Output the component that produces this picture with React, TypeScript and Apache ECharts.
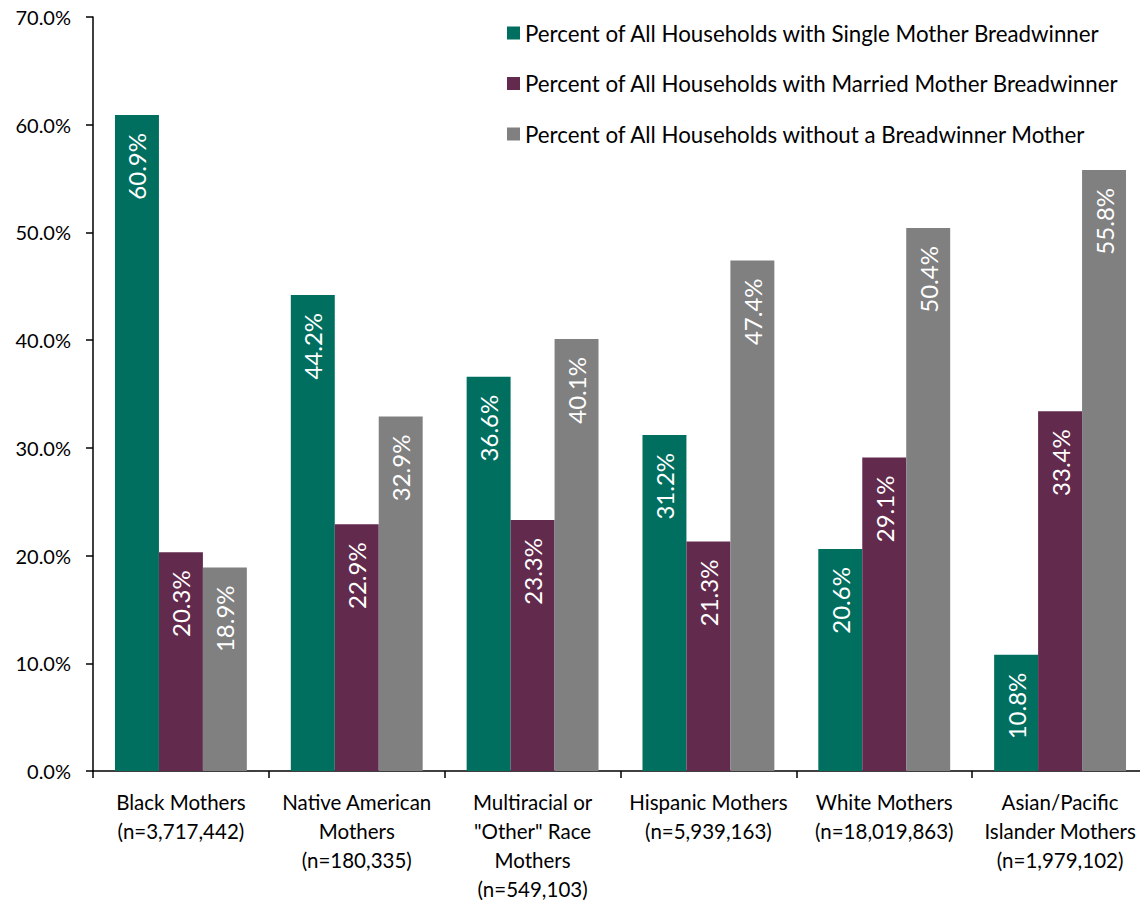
import React, { useEffect, useRef } from "react";
import * as echarts from "echarts";

const categories = [
  "Black Mothers\n(n=3,717,442)",
  "Native American\nMothers\n(n=180,335)",
  "Multiracial or\n\"Other\" Race\nMothers\n(n=549,103)",
  "Hispanic Mothers\n(n=5,939,163)",
  "White Mothers\n(n=18,019,863)",
  "Asian/Pacific\nIslander Mothers\n(n=1,979,102)",
];

const singleMother = [60.9, 44.2, 36.6, 31.2, 20.6, 10.8];
const marriedMother = [20.3, 22.9, 23.3, 21.3, 29.1, 33.4];
const withoutBreadwinner = [18.9, 32.9, 40.1, 47.4, 50.4, 55.8];

const seriesNames = [
  "Percent of All Households with Single Mother Breadwinner",
  "Percent of All Households with Married Mother Breadwinner",
  "Percent of All Households without a Breadwinner Mother",
];
const colors = ["#006F5F", "#622A4C", "#808080"];

const FONT = "Lato";

export default function App() {
  const ref = useRef<HTMLDivElement>(null);
  useEffect(() => {
    if (!ref.current) return;
    const chart = echarts.init(ref.current, undefined, { renderer: "svg" });
    const label = {
      show: true,
      position: "insideTop",
      rotate: 90,
      align: "right",
      verticalAlign: "middle",
      distance: 18,
      color: "#fff",
      fontSize: 24,
      fontFamily: FONT,
      formatter: (p: any) => Number(p.value).toFixed(1) + "%",
    };
    const datas = [singleMother, marriedMother, withoutBreadwinner];
    chart.setOption({
      animation: false,
      textStyle: { fontFamily: FONT },
      grid: {
        left: 93,
        top: 17,
        width: 1055,
        height: 754,
        containLabel: false,
        outerBoundsMode: "none",
      },
      legend: {
        data: seriesNames,
        orient: "vertical",
        left: 507,
        top: 22,
        padding: 0,
        itemWidth: 13,
        itemHeight: 13,
        itemGap: 28.5,
        icon: "rect",
        textStyle: { fontSize: 22.3, lineHeight: 22, color: "#000", fontFamily: FONT },
      },
      xAxis: {
        type: "category",
        data: categories,
        axisLine: { show: true, lineStyle: { color: "#000", width: 1.5 } },
        axisTick: { show: true, length: 7, alignWithLabel: false, lineStyle: { color: "#000", width: 1.5 } },
        axisLabel: {
          interval: 0,
          fontSize: 20.5,
          lineHeight: 29,
          margin: 16,
          color: "#000",
          fontFamily: FONT,
        },
      },
      yAxis: {
        type: "value",
        min: 0,
        max: 70,
        interval: 10,
        splitLine: { show: false },
        axisLine: { show: true, lineStyle: { color: "#000", width: 1.5 } },
        axisTick: { show: true, length: 7, lineStyle: { color: "#000", width: 1.5 } },
        axisLabel: {
          fontSize: 20,
          margin: 22,
          color: "#000",
          fontFamily: FONT,
          formatter: (v: number) => v.toFixed(1) + "%",
        },
      },
      series: seriesNames.map((name, i) => ({
        name,
        type: "bar",
        data: datas[i],
        barGap: "0%",
        barCategoryGap: "25%",
        itemStyle: { color: colors[i] },
        label,
      })),
    });
    return () => chart.dispose();
  }, []);
  return (
    <div
      ref={ref}
      style={{ position: "absolute", left: 0, top: 0, width: 1140, height: 901 }}
    />
  );
}
